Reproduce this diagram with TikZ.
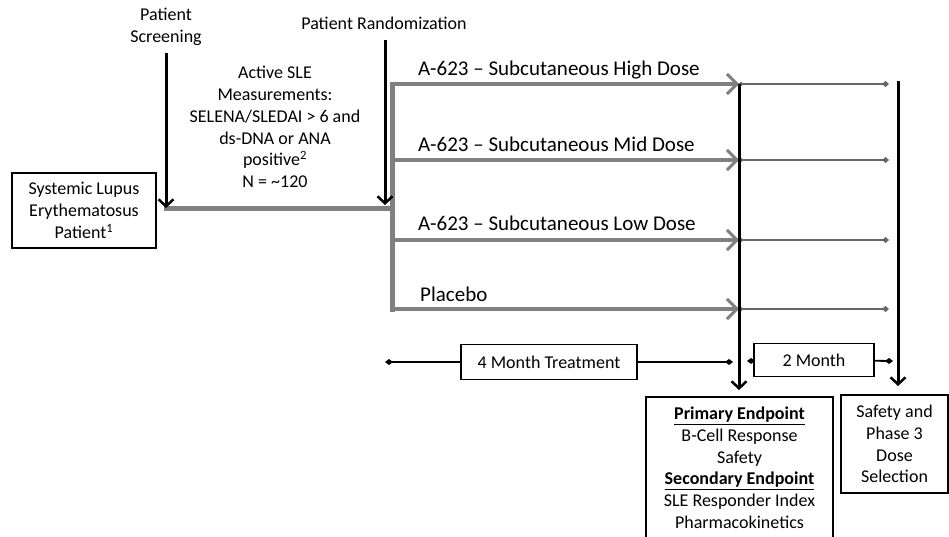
\documentclass[tikz,border=0pt]{standalone}
\usepackage{fontspec}
\setmainfont{Carlito}
\usetikzlibrary{positioning, arrows.meta, calc}
\tikzset{
  box/.style={
    draw,
    rectangle,
    line width=1.5pt,
    align=center,
    fill=white,
    inner sep=2pt,
    font=\fontsize{18}{21.7}\selectfont
  },
  plain/.style={
    align=center,
    inner sep=0pt,
    font=\fontsize{18}{21.7}\selectfont
  },
  armlabel/.style={
    anchor=base west,
    inner sep=0pt,
    font=\fontsize{21}{25}\selectfont
  },
  band/.style={
    draw=black!50,
    line width=5pt,
    line cap=rect
  },
  arm/.style={
    draw=black!50,
    line width=4.5pt,
    -{Straight Barb[length=10pt, width=20pt, line width=3pt]}
  },
  followup/.style={
    draw=black!60,
    line width=1.8pt,
    {Circle[length=4pt]}-{Diamond[length=7pt, width=6pt]}
  },
  marker/.style={
    draw=black,
    line width=3pt,
    -{Straight Barb[length=7pt, width=15pt, line width=2.5pt]}
  },
  timeline/.style={
    draw=black,
    line width=1.8pt
  }
}

\begin{document}
\begin{tikzpicture}[x=1pt, y=-1pt]
  \useasboundingbox (0,0) rectangle (949,536);
  \clip (0,0) rectangle (949,536);

  \node[box, minimum width=144pt, minimum height=75pt] (sle) at (84,210.5) {Systemic Lupus\\Erythematosus\\Patient\textsuperscript{1}};
  \node[plain] (screen) at (166,27) {Patient\\Screening};
  \node[plain] (rand) at (384,23) {Patient Randomization};
  \node[plain] (criteria) at (275,127) {Active SLE\\Measurements:\\SELENA/SLEDAI > 6 and\\ds-DNA or ANA\\positive\textsuperscript{2}\\N = \textasciitilde120};

  \coordinate (scrtop) at (166,53);
  \coordinate (scrend) at (166,208);
  \coordinate (rndtop) at (385,40);
  \coordinate (rndend) at (385,205);
  \coordinate (split) at (392,208);

  \coordinate (arm1) at (392,84);
  \coordinate (arm2) at (392,160);
  \coordinate (arm3) at (392,240);
  \coordinate (arm4) at (392,309);
  \coordinate (end1) at (739,84);
  \coordinate (end2) at (739,160);
  \coordinate (end3) at (739,240);
  \coordinate (end4) at (739,309);
  \coordinate (fin1) at (889,84);
  \coordinate (fin2) at (889,160);
  \coordinate (fin3) at (889,240);
  \coordinate (fin4) at (889,309);

  \node[armlabel] (high) at (418,75) {A-623 – Subcutaneous High Dose};
  \node[armlabel] (mid) at (418,151) {A-623 – Subcutaneous Mid Dose};
  \node[armlabel] (low) at (418,230) {A-623 – Subcutaneous Low Dose};
  \node[armlabel] (placebo) at (420,301) {Placebo};

  \draw[band] (scrend) -- (split);
  \draw[band] (arm1) -- (arm4);
  \draw[arm] (arm1) -- (end1);
  \draw[arm] (arm2) -- (end2);
  \draw[arm] (arm3) -- (end3);
  \draw[arm] (arm4) -- (end4);

  \draw[followup] (end1) -- (fin1);
  \draw[followup] (end2) -- (fin2);
  \draw[followup] (end3) -- (fin3);
  \draw[followup] (end4) -- (fin4);

  \node[box, minimum width=176pt, minimum height=35pt] (treat) at (549,362) {4 Month Treatment};
  \node[box, minimum width=120pt, minimum height=33pt] (follow) at (814,360) {2 Month};
  \coordinate (t0) at (385,362);
  \coordinate (t1) at (733,362);
  \coordinate (t2) at (747,361);
  \coordinate (t3) at (893,361);
  \draw[timeline, {Diamond[length=8pt, width=6pt]}-] (t0) -- (treat);
  \draw[timeline, -{Diamond[length=8pt, width=6pt]}] (treat) -- (t1);
  \draw[timeline, {Diamond[length=8pt, width=6pt]}-] (t2) -- (follow);
  \draw[timeline, -{Diamond[length=8pt, width=6pt]}] (follow) -- (t3);

  \node[box, anchor=north, minimum width=187pt, minimum height=142pt] (primary) at (739.5,396) {\underline{\textbf{Primary Endpoint}}\\B-Cell Response\\Safety\\\underline{\textbf{Secondary Endpoint}}\\SLE Responder Index\\Pharmacokinetics};
  \node[box, minimum width=107pt, minimum height=98pt] (select) at (894.5,444) {Safety and\\Phase 3\\Dose\\Selection};

  \coordinate (wk16) at (739,84);
  \coordinate (wk16dn) at (739,390);
  \coordinate (wk24) at (898,81);
  \coordinate (wk24dn) at (898,386);

  \draw[marker] (scrtop) -- (scrend);
  \draw[marker] (rndtop) -- (rndend);
  \draw[marker] (wk16) -- (wk16dn);
  \draw[marker] (wk24) -- (wk24dn);
\end{tikzpicture}
\end{document}
